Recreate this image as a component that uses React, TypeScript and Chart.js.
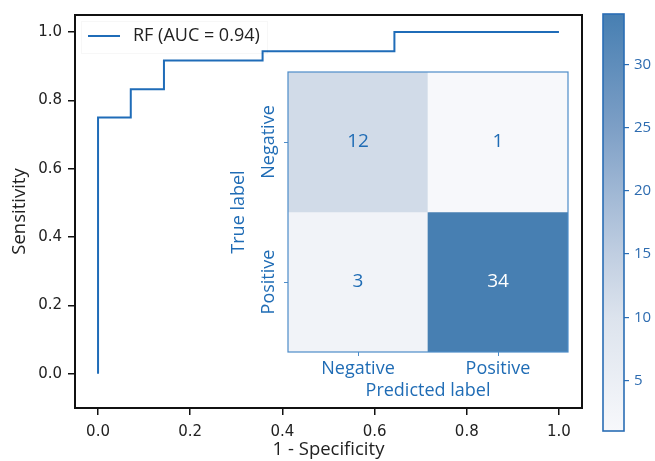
import React, { useEffect, useRef } from 'react';
import { Chart, registerables } from 'chart.js';

Chart.register(...registerables);

// ---------- data ----------
const ROC_FPR = [0, 0, 0.071, 0.143, 0.357, 0.643, 1.0];
const ROC_TPR = [0, 0.75, 0.833, 0.917, 0.944, 1.0, 1.0];
const ROC_LABEL = 'RF (AUC = 0.94)';
const AXIS_TICKS = [0, 0.2, 0.4, 0.6, 0.8, 1.0];
const X_TITLE = '1 - Specificity';
const Y_TITLE = 'Sensitivity';

const CM_CLASSES = ['Negative', 'Positive'];
const CM_ROW_NEGATIVE = [12, 1];
const CM_ROW_POSITIVE = [3, 34];
const CM_X_TITLE = 'Predicted label';
const CM_Y_TITLE = 'True label';

const CB_TICKS = [5, 10, 15, 20, 25, 30];

// colormap (position 0..1 -> rgb)
const CMAP_POS = [0, 0.273, 0.424, 0.576, 0.727, 1];
const CMAP_RGB = [
  [247, 248, 251],
  [220, 227, 237],
  [192, 206, 225],
  [159, 183, 212],
  [125, 159, 198],
  [71, 127, 178],
];

// ---------- styles ----------
const ROC_BLUE = '#1f6cb8';
const TEXT_DARK = '#222222';
const CM_BLUE = '#1f6cb5';
const CM_EDGE = '#4d8cc8';
const CB_EDGE = '#2a6db5';

const CM_ROWS = [CM_ROW_NEGATIVE, CM_ROW_POSITIVE];
const ALL_VALUES = CM_ROWS.flat();
const V_MIN = Math.min(...ALL_VALUES);
const V_MAX = Math.max(...ALL_VALUES);

function cmapT(t: number): string {
  const tt = Math.max(0, Math.min(1, t));
  for (let i = 0; i < CMAP_POS.length - 1; i++) {
    if (tt <= CMAP_POS[i + 1]) {
      const f = (tt - CMAP_POS[i]) / (CMAP_POS[i + 1] - CMAP_POS[i]);
      const a = CMAP_RGB[i];
      const b = CMAP_RGB[i + 1];
      const c = a.map((v, k) => Math.round(v + (b[k] - v) * f));
      return `rgb(${c[0]},${c[1]},${c[2]})`;
    }
  }
  const l = CMAP_RGB[CMAP_RGB.length - 1];
  return `rgb(${l[0]},${l[1]},${l[2]})`;
}
function cmap(v: number): string {
  return cmapT((v - V_MIN) / (V_MAX - V_MIN));
}

export default function App() {
  const mainRef = useRef<HTMLCanvasElement>(null);
  const cmRef = useRef<HTMLCanvasElement>(null);
  const cbRef = useRef<HTMLCanvasElement>(null);

  useEffect(() => {
    // ---------- main ROC chart ----------
    const framePlugin = {
      id: 'frame',
      afterDraw(chart: any) {
        const { ctx, chartArea: a } = chart;
        ctx.save();
        ctx.strokeStyle = '#111';
        ctx.lineWidth = 2;
        ctx.strokeRect(a.left, a.top, a.right - a.left, a.bottom - a.top);
        ctx.restore();
      },
    };
    const legendPlugin = {
      id: 'insideLegend',
      afterDraw(chart: any) {
        const { ctx, chartArea: a } = chart;
        const ds = chart.data.datasets[0];
        ctx.save();
        ctx.strokeStyle = 'rgba(0,0,0,0.03)';
        ctx.lineWidth = 1;
        ctx.strokeRect(a.left + 6.5, a.top + 6.5, 186, 32);
        ctx.strokeStyle = ds.borderColor;
        ctx.lineWidth = 2;
        ctx.beginPath();
        ctx.moveTo(a.left + 13, a.top + 21);
        ctx.lineTo(a.left + 45, a.top + 21);
        ctx.stroke();
        ctx.fillStyle = TEXT_DARK;
        ctx.font = '18px "Open Sans"';
        ctx.textBaseline = 'middle';
        ctx.textAlign = 'left';
        ctx.fillText(ds.label, a.left + 58, a.top + 21);
        ctx.restore();
      },
    };

    const tickFont = { family: 'DejaVu Sans', size: 15 };
    const titleFont = { family: 'Open Sans', size: 18.5 };

    const main = new Chart(mainRef.current!, {
      type: 'line',
      data: {
        datasets: [
          {
            label: ROC_LABEL,
            data: ROC_FPR.map((x, i) => ({ x, y: ROC_TPR[i] })),
            stepped: 'before',
            borderColor: ROC_BLUE,
            borderWidth: 2,
            pointRadius: 0,
            fill: false,
          } as any,
        ],
      },
      options: {
        responsive: false,
        animation: false,
        layout: { padding: { top: 11, right: 73, left: 0, bottom: 0 } },
        plugins: { legend: { display: false }, tooltip: { enabled: false } },
        scales: {
          x: {
            type: 'linear',
            min: -0.05,
            max: 1.05,
            afterBuildTicks: (s: any) => {
              s.ticks = AXIS_TICKS.map((v) => ({ value: v }));
            },
            afterFit: (s: any) => {
              s.height = 53;
            },
            grid: { drawOnChartArea: false, drawTicks: true, tickLength: 7, color: '#111', lineWidth: 1.5 },
            border: { display: false },
            ticks: {
              color: TEXT_DARK,
              font: tickFont,
              padding: 8,
              maxRotation: 0,
              callback: (v: any) => Number(v).toFixed(1),
            },
            title: { display: true, text: X_TITLE, color: TEXT_DARK, font: titleFont, padding: { top: 0, bottom: 0 } },
          },
          y: {
            type: 'linear',
            min: -0.1,
            max: 1.05,
            afterBuildTicks: (s: any) => {
              s.ticks = AXIS_TICKS.map((v) => ({ value: v }));
            },
            afterFit: (s: any) => {
              s.width = 75;
            },
            grid: { drawOnChartArea: false, drawTicks: true, tickLength: 7, color: '#111', lineWidth: 1.5 },
            border: { display: false },
            ticks: {
              color: TEXT_DARK,
              font: tickFont,
              padding: 6,
              callback: (v: any) => Number(v).toFixed(1),
            },
            title: { display: true, text: Y_TITLE, color: TEXT_DARK, font: titleFont, padding: { top: 9, bottom: 0 } },
          },
        },
      } as any,
      plugins: [framePlugin, legendPlugin],
    });

    // ---------- confusion matrix inset ----------
    const cmPlugin = {
      id: 'cmExtras',
      afterDatasetsDraw(chart: any) {
        const { ctx } = chart;
        ctx.save();
        ctx.font = '19px "Open Sans"';
        ctx.textAlign = 'center';
        ctx.textBaseline = 'middle';
        chart.data.datasets.forEach((ds: any, di: number) => {
          const meta = chart.getDatasetMeta(di);
          meta.data.forEach((el: any, i: number) => {
            const v = ds.cmValues[i];
            const p = el.getCenterPoint();
            ctx.fillStyle = v > (V_MIN + V_MAX) / 2 ? '#ffffff' : CM_BLUE;
            ctx.fillText(String(v), p.x, p.y);
          });
        });
        ctx.restore();
      },
      afterDraw(chart: any) {
        const { ctx, chartArea: a } = chart;
        const ys = chart.scales.y;
        ctx.save();
        ctx.strokeStyle = CM_EDGE;
        ctx.lineWidth = 1.2;
        ctx.strokeRect(a.left, a.top, a.right - a.left, a.bottom - a.top);
        ctx.fillStyle = CM_BLUE;
        ctx.font = '18px "Open Sans"';
        ctx.textAlign = 'center';
        ctx.textBaseline = 'middle';
        CM_CLASSES.forEach((lab, i) => {
          const y = ys.getPixelForValue(i + 0.5);
          ctx.save();
          ctx.translate(a.left - 19, y);
          ctx.rotate(-Math.PI / 2);
          ctx.fillText(lab, 0, 0);
          ctx.restore();
        });
        ctx.restore();
      },
    };

    const cmFont = { family: 'Open Sans', size: 18 };
    const cm = new Chart(cmRef.current!, {
      type: 'bar',
      data: {
        labels: CM_CLASSES,
        datasets: CM_ROWS.map((row, r) => ({
          label: CM_CLASSES[r],
          data: row.map(() => [r, r + 1]),
          cmValues: row,
          backgroundColor: row.map((v) => cmap(v)),
          borderWidth: 0,
          grouped: false,
          barPercentage: 1,
          categoryPercentage: 1,
        })) as any,
      },
      options: {
        responsive: false,
        animation: false,
        layout: { padding: { top: 12, right: 2, left: 0, bottom: 0 } },
        plugins: { legend: { display: false }, tooltip: { enabled: false } },
        scales: {
          x: {
            type: 'category',
            offset: true,
            afterFit: (s: any) => {
              s.height = 53;
            },
            grid: { offset: false, drawOnChartArea: false, drawTicks: true, tickLength: 4, color: CM_EDGE, lineWidth: 1 },
            border: { display: false },
            ticks: { color: CM_BLUE, font: cmFont, padding: 2, maxRotation: 0 },
            title: { display: true, text: CM_X_TITLE, color: CM_BLUE, font: cmFont, padding: { top: 0, bottom: 3 } },
          },
          y: {
            type: 'linear',
            min: 0,
            max: 2,
            reverse: true,
            afterBuildTicks: (s: any) => {
              s.ticks = CM_CLASSES.map((_, i) => ({ value: i + 0.5 }));
            },
            afterFit: (s: any) => {
              s.width = 68;
            },
            grid: { drawOnChartArea: false, drawTicks: true, tickLength: 4, color: CM_EDGE, lineWidth: 1 },
            border: { display: false },
            ticks: { display: false },
            title: { display: true, text: CM_Y_TITLE, color: CM_BLUE, font: cmFont, padding: { top: 8.5, bottom: 0 } },
          },
        },
      } as any,
      plugins: [cmPlugin],
    });

    // ---------- colorbar ----------
    const cbFrame = {
      id: 'cbFrame',
      afterDraw(chart: any) {
        const { ctx, chartArea: a } = chart;
        ctx.save();
        ctx.strokeStyle = CB_EDGE;
        ctx.lineWidth = 1.6;
        ctx.strokeRect(a.left, a.top, a.right - a.left, a.bottom - a.top);
        ctx.restore();
      },
    };
    const cb = new Chart(cbRef.current!, {
      type: 'bar',
      data: {
        labels: ['cb'],
        datasets: [
          {
            data: [[V_MIN, V_MAX]],
            backgroundColor: (c: any) => {
              const chart = c.chart;
              if (!chart.chartArea) return 'transparent';
              const ys = chart.scales.y;
              const g = chart.ctx.createLinearGradient(0, ys.getPixelForValue(V_MIN), 0, ys.getPixelForValue(V_MAX));
              CMAP_POS.forEach((p, i) => {
                const rgb = CMAP_RGB[i];
                g.addColorStop(p, `rgb(${rgb[0]},${rgb[1]},${rgb[2]})`);
              });
              return g;
            },
            borderWidth: 0,
            barPercentage: 1,
            categoryPercentage: 1,
          } as any,
        ],
      },
      options: {
        responsive: false,
        animation: false,
        layout: { padding: { top: 10, right: 0, left: 13, bottom: 30 } },
        plugins: { legend: { display: false }, tooltip: { enabled: false } },
        scales: {
          x: { display: false },
          y: {
            position: 'right',
            type: 'linear',
            min: V_MIN,
            max: V_MAX,
            afterBuildTicks: (s: any) => {
              s.ticks = CB_TICKS.map((v) => ({ value: v }));
            },
            afterFit: (s: any) => {
              s.width = 31;
            },
            grid: { drawOnChartArea: false, drawTicks: true, tickLength: 5, color: CB_EDGE, lineWidth: 1.2 },
            border: { display: false },
            ticks: { color: '#2e6cb0', font: { family: 'Open Sans', size: 15 }, padding: 5 },
          },
        },
      } as any,
      plugins: [cbFrame],
    });

    return () => {
      main.destroy();
      cm.destroy();
      cb.destroy();
    };
  }, []);

  return (
    <div style={{ position: 'absolute', left: 0, top: 0, width: 655, height: 461, background: '#ffffff' }}>
      <canvas ref={mainRef} width={655} height={461} style={{ position: 'absolute', left: 0, top: 0 }} />
      <canvas ref={cmRef} width={350} height={345} style={{ position: 'absolute', left: 220, top: 60 }} />
      <canvas ref={cbRef} width={65} height={461} style={{ position: 'absolute', left: 590, top: 0 }} />
    </div>
  );
}
